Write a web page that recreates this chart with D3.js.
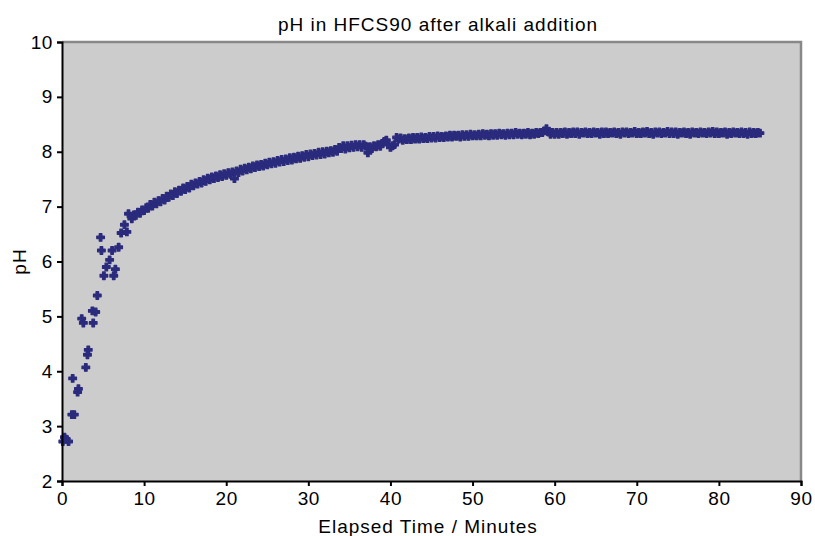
<!DOCTYPE html>
<html>
<head>
<meta charset="utf-8">
<script src="https://cdn.jsdelivr.net/npm/d3@7"></script>
<style>
  body { margin: 0; background: #fff; }
  svg { display: block; font-family: "Liberation Sans", Arial, sans-serif; }
</style>
</head>
<body>
<svg id="chart"></svg>
<script>
// early readings, sparse and scattered (minutes, pH)
const earlyTime = [0.1, 0.3, 0.5, 0.8, 1.2, 1.5, 1.3, 1.9, 2.0, 2.4, 2.6, 2.9, 3.1, 3.2, 3.7, 3.8, 4.1, 4.3,
	4.7, 4.8, 5.1, 5.4, 5.8, 6.1, 6.3, 6.5, 6.9, 7.2, 7.6, 7.9, 8.1];
const earlyPH = [2.72, 2.80, 2.76, 2.72, 3.21, 3.21, 3.87, 3.62, 3.68, 4.96, 4.88, 4.07, 4.30, 4.39, 5.10, 4.88, 5.08, 5.38,
	6.44, 6.20, 5.74, 5.90, 6.03, 6.20, 5.74, 5.86, 6.26, 6.52, 6.67, 6.54, 6.87];

// later readings, logged every 15 s from 8.5 min
const lateStart = 8.5;
const lateStep = 0.25;
const latePH = [
	6.78, 6.85, 6.84, 6.90, 6.88, 6.94, 6.93, 6.98,
	6.97, 7.04, 7.01, 7.08, 7.05, 7.11, 7.09, 7.15,
	7.12, 7.19, 7.17, 7.23, 7.20, 7.27, 7.24, 7.30,
	7.28, 7.34, 7.31, 7.37, 7.34, 7.41, 7.38, 7.43,
	7.41, 7.46, 7.43, 7.49, 7.46, 7.52, 7.49, 7.54,
	7.51, 7.56, 7.53, 7.58, 7.55, 7.60, 7.57, 7.62,
	7.59, 7.63, 7.51, 7.65, 7.62, 7.68, 7.65, 7.70,
	7.67, 7.72, 7.69, 7.74, 7.71, 7.76, 7.73, 7.77,
	7.74, 7.79, 7.76, 7.81, 7.78, 7.82, 7.79, 7.84,
	7.81, 7.86, 7.82, 7.87, 7.84, 7.89, 7.85, 7.90,
	7.87, 7.92, 7.88, 7.93, 7.90, 7.95, 7.91, 7.96,
	7.93, 7.97, 7.94, 7.99, 7.95, 8.00, 7.96, 8.01,
	7.98, 8.02, 7.99, 8.04, 8.01, 8.08, 8.06, 8.11,
	8.05, 8.11, 8.07, 8.12, 8.08, 8.13, 8.09, 8.13,
	8.08, 8.13, 8.10, 7.98, 8.09, 8.06, 8.11, 8.09,
	8.13, 8.10, 8.15, 8.19, 8.21, 8.13, 8.08, 8.11,
	8.13, 8.26, 8.23, 8.25, 8.21, 8.24, 8.22, 8.25,
	8.22, 8.26, 8.23, 8.26, 8.23, 8.27, 8.24, 8.26,
	8.24, 8.28, 8.25, 8.28, 8.25, 8.29, 8.26, 8.28,
	8.26, 8.29, 8.27, 8.30, 8.27, 8.30, 8.28, 8.30,
	8.27, 8.31, 8.28, 8.31, 8.28, 8.32, 8.29, 8.31,
	8.29, 8.32, 8.29, 8.33, 8.30, 8.32, 8.29, 8.33,
	8.30, 8.33, 8.30, 8.34, 8.31, 8.33, 8.30, 8.34,
	8.31, 8.34, 8.31, 8.35, 8.32, 8.34, 8.31, 8.34,
	8.32, 8.35, 8.31, 8.34, 8.32, 8.35, 8.33, 8.35,
	8.35, 8.38, 8.42, 8.36, 8.32, 8.35, 8.32, 8.35,
	8.32, 8.35, 8.33, 8.36, 8.32, 8.35, 8.33, 8.36,
	8.33, 8.36, 8.32, 8.35, 8.34, 8.36, 8.33, 8.35,
	8.33, 8.36, 8.34, 8.35, 8.32, 8.36, 8.33, 8.36,
	8.33, 8.35, 8.34, 8.36, 8.33, 8.35, 8.32, 8.36,
	8.34, 8.36, 8.33, 8.35, 8.34, 8.37, 8.33, 8.35,
	8.33, 8.36, 8.34, 8.37, 8.33, 8.35, 8.32, 8.36,
	8.34, 8.36, 8.33, 8.35, 8.34, 8.37, 8.33, 8.36,
	8.33, 8.36, 8.32, 8.35, 8.34, 8.36, 8.33, 8.35,
	8.32, 8.36, 8.34, 8.35, 8.33, 8.36, 8.34, 8.35,
	8.33, 8.36, 8.34, 8.37, 8.33, 8.36, 8.33, 8.35,
	8.34, 8.36, 8.32, 8.35, 8.33, 8.36, 8.34, 8.35,
	8.33, 8.36, 8.33, 8.35, 8.32, 8.36, 8.33, 8.35,
	8.33, 8.35, 8.34
];

const xTicks = [0, 10, 20, 30, 40, 50, 60, 70, 80, 90];
const yTicks = [2, 3, 4, 5, 6, 7, 8, 9, 10];

const width = 815, height = 536;
const margin = { top: 42, right: 14, bottom: 55, left: 62 };
const markColor = "#2b2b7e";

const svg = d3.select("#chart").attr("width", width).attr("height", height);

const x = d3.scaleLinear().domain([0, 90]).range([margin.left, width - margin.right]);
const y = d3.scaleLinear().domain([2, 10]).range([height - margin.bottom, margin.top]);

const points = earlyTime.map((t, i) => ({ t: t, ph: earlyPH[i] }))
	.concat(latePH.map((ph, i) => ({ t: lateStart + i * lateStep, ph: ph })));

// plot area
svg.append("rect")
	.attr("x", x(0))
	.attr("y", y(10))
	.attr("width", x(90) - x(0))
	.attr("height", y(2) - y(10))
	.attr("fill", "#cccccc");

svg.append("path")
	.attr("d", `M${x(0)},${y(10)}H${x(90)}V${y(2)}`)
	.attr("fill", "none")
	.attr("stroke", "#888888")
	.attr("stroke-width", 2.5);

// markers
const sym = d3.symbol().type(d3.symbolCross).size(32);
svg.append("g")
	.selectAll("path")
	.data(points)
	.join("path")
	.attr("transform", (d) => `translate(${x(d.t)},${y(d.ph)})`)
	.attr("d", sym)
	.attr("fill", markColor)
	.attr("stroke", markColor)
	.attr("stroke-width", 1.3)
	.attr("stroke-linejoin", "round");

// axes
const xAxis = svg.append("g")
	.attr("transform", `translate(0,${y(2)})`)
	.call(d3.axisBottom(x).tickValues(xTicks).tickSize(5).tickPadding(6));
const yAxis = svg.append("g")
	.attr("transform", `translate(${x(0)},0)`)
	.call(d3.axisLeft(y).tickValues(yTicks).tickSize(5).tickPadding(4));

[xAxis, yAxis].forEach((g) => {
	g.select(".domain").attr("stroke", "#000").attr("stroke-width", 2);
	g.selectAll(".tick line").attr("stroke", "#000").attr("stroke-width", 2);
	g.selectAll(".tick text")
		.attr("fill", "#000")
		.attr("font-size", "19px")
		.attr("letter-spacing", "0.6px")
		.attr("font-family", "Liberation Sans, Arial, sans-serif");
});

// titles
svg.append("text")
	.attr("x", 438)
	.attr("y", 31)
	.attr("text-anchor", "middle")
	.attr("font-size", "19px")
	.attr("letter-spacing", "1px")
	.text("pH in HFCS90 after alkali addition");

svg.append("text")
	.attr("x", 428)
	.attr("y", 533)
	.attr("text-anchor", "middle")
	.attr("font-size", "19px")
	.attr("letter-spacing", "1px")
	.text("Elapsed Time / Minutes");

svg.append("text")
	.attr("transform", `translate(26,${(y(2) + y(10)) / 2}) rotate(-90)`)
	.attr("text-anchor", "middle")
	.attr("font-size", "19px")
	.attr("letter-spacing", "1px")
	.text("pH");
</script>
</body>
</html>
